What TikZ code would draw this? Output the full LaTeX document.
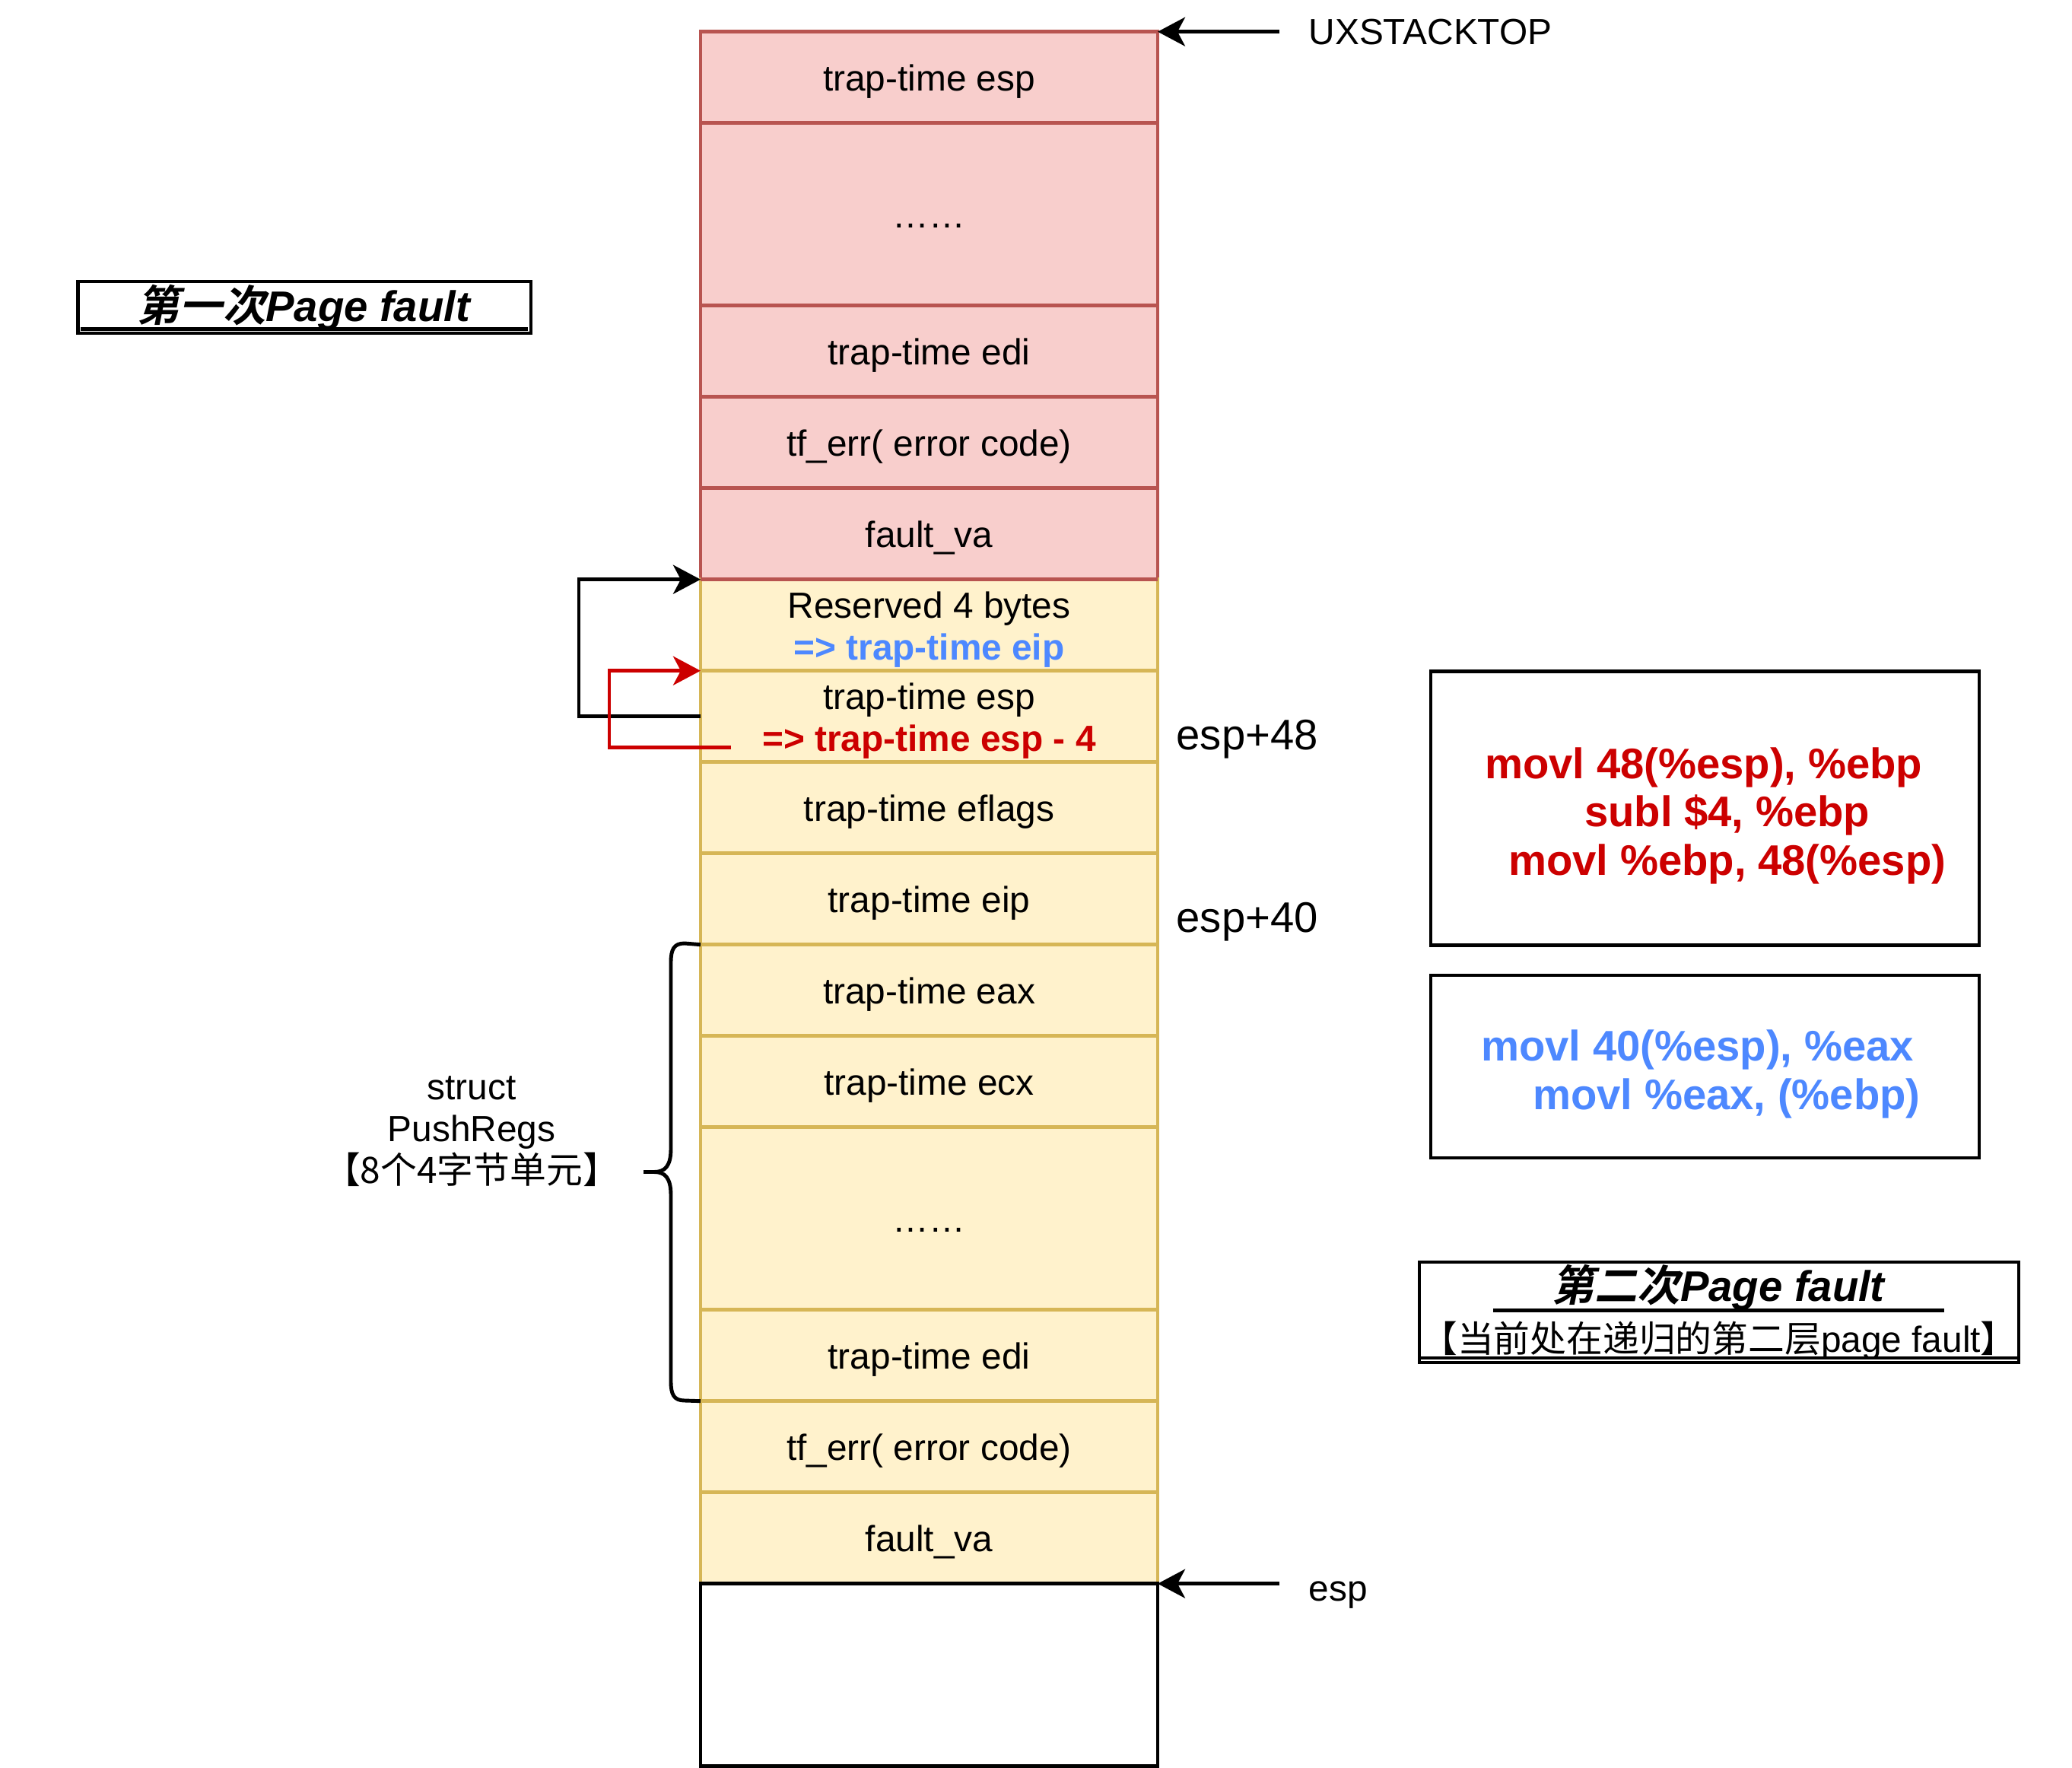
\documentclass[tikz,border=0pt]{standalone}
\usepackage{fontspec}
\setmainfont{Liberation Sans}
\newfontfamily\cjk{Noto Sans CJK SC}
\newfontfamily\cjkbi{Noto Sans CJK SC Bold}[FakeSlant=0.2]
\usepackage{xcolor}
\usepackage{tikz}
\usetikzlibrary{arrows.meta, positioning, calc}
\definecolor{ST_REDFILL}{HTML}{F8CECC}
\definecolor{ST_REDLINE}{HTML}{B85450}
\definecolor{ST_YELFILL}{HTML}{FFF2CC}
\definecolor{ST_YELLINE}{HTML}{D6B656}
\definecolor{ST_RED}{HTML}{CC0000}
\definecolor{ST_BLUE}{HTML}{4D88FF}
\tikzset{
  cell/.style={
    rectangle, minimum width=6.01cm, minimum height=1.2cm,
    inner sep=0pt, outer sep=0pt,
    text centered, align=center, line width=1.4pt,
    font=\fontsize{13.6}{15.7}\selectfont,
    execute at begin node={\rule{0pt}{0.48cm}},
    execute at end node={\rule[-0.13cm]{0pt}{0.13cm}}},
  redcell/.style={cell, draw=ST_REDLINE, fill=ST_REDFILL},
  yelcell/.style={cell, draw=ST_YELLINE, fill=ST_YELFILL},
  emptycell/.style={cell, draw=black, fill=white},
  dbl/.style={minimum height=2.4cm},
  lbl/.style={font=\fontsize{13.6}{16}\selectfont, inner sep=0pt},
  arr/.style={-{Stealth[length=3.6mm,width=3.8mm,inset=1mm]}, line width=1.4pt, color=black},
  redarr/.style={arr, color=ST_RED},
  codebox/.style={
    rectangle, draw=black, line width=1.4pt,
    minimum width=7.21cm, inner sep=0pt},
  codetxt/.style={font=\fontsize{16}{18}\selectfont\bfseries, align=left, inner sep=0pt},
  titlebox/.style={
    rectangle, draw=black, line width=1.4pt,
    inner sep=0pt, align=center},
  ulin/.style={line width=1.4pt},
  brc/.style={line width=1.4pt},
}
\begin{document}
\begin{tikzpicture}
  \useasboundingbox (0,0) rectangle (27.24,-23.24);

  % first frame
  \node[redcell, anchor=north] (c1) at (12.215,-0.417) {trap-time esp};
  \node[redcell, dbl, below=0pt of c1] (c2) {……};
  \node[redcell, below=0pt of c2] (c3) {trap-time edi};
  \node[redcell, below=0pt of c3] (c4) {tf\_err( error code)};
  \node[redcell, below=0pt of c4] (c5) {fault\_va};

  % second frame
  \node[yelcell, below=0pt of c5] (c6)
    {\rule{0pt}{0.49cm}Reserved 4 bytes\\{\color{ST_BLUE}\bfseries => trap-time eip}};
  \node[yelcell, below=0pt of c6] (c7)
    {\rule{0pt}{0.49cm}trap-time esp\\{\color{ST_RED}\bfseries => trap-time esp - 4}};
  \node[yelcell, below=0pt of c7] (c8) {trap-time eflags};
  \node[yelcell, below=0pt of c8] (c9) {trap-time eip};
  \node[yelcell, below=0pt of c9] (c10) {trap-time eax};
  \node[yelcell, below=0pt of c10] (c11) {trap-time ecx};
  \node[yelcell, dbl, below=0pt of c11] (c12) {……};
  \node[yelcell, below=0pt of c12] (c13) {trap-time edi};
  \node[yelcell, below=0pt of c13] (c14) {tf\_err( error code)};
  \node[yelcell, below=0pt of c14] (c15) {fault\_va};
  \node[emptycell, dbl, below=0pt of c15] (c16) {};
  \draw[ST_REDLINE, line width=1.4pt] (c5.south west) -- (c5.south east);

  % pointers on the right
  \node[lbl, anchor=west, inner xsep=3.8mm, xshift=1.6cm] (ux) at (c1.north east) {UXSTACKTOP};
  \draw[arr] (ux.west) -- (c1.north east);
  \node[lbl, anchor=west, inner xsep=3.8mm, xshift=1.6cm, yshift=-1.5mm] (esp) at (c15.south east) {esp};
  \draw[arr] (c15.south east -| esp.west) -- (c15.south east);
  \node[lbl, font=\fontsize{16}{18}\selectfont, anchor=west, xshift=2.4mm, yshift=-3mm] (off48) at (c7.east) {esp+48};
  \node[lbl, font=\fontsize{16}{18}\selectfont, anchor=west, xshift=2.4mm, yshift=-3mm] (off40) at (c9.east) {esp+40};

  % loops on the left
  \draw[arr] (c7.west) -- ++(-1.6,0) |- (c6.north west);
  \coordinate (rs) at ($(c7.west)+(0.4,-0.405)$);
  \draw[redarr] (rs) -- ++(-1.6,0) |- (c7.north west);

  % PushRegs brace
  \draw[brc] (c10.north west) -- (9.00,-12.40)
    .. controls (8.86,-12.40) and (8.82,-12.48) .. (8.82,-12.65) -- (8.82,-15.10)
    .. controls (8.82,-15.33) and (8.74,-15.405) .. (8.60,-15.405) -- (8.46,-15.405);
  \draw[brc] (8.60,-15.405)
    .. controls (8.74,-15.405) and (8.82,-15.48) .. (8.82,-15.71) -- (8.82,-18.16)
    .. controls (8.82,-18.33) and (8.86,-18.41) .. (9.00,-18.41) -- (c13.south west);
  \node[lbl, align=center, font=\fontsize{13.6}{15.7}\selectfont] (pregs) at (6.20,-14.87)
    {struct\\PushRegs\\{\cjk 【8个4字节单元】}};

  % code
  \node[codebox, minimum height=3.595cm] (box1) at (22.415,-10.623) {};
  \node[codetxt, text=ST_RED, anchor=west, xshift=7.3mm, yshift=-1mm] (movs1) at (box1.west)
    {movl 48(\%esp), \%ebp\\
     \hspace*{1.31cm}subl \$4, \%ebp\\
     \hspace*{0.31cm}movl \%ebp, 48(\%esp)};
  \node[codebox, minimum height=2.4cm] (box2) at (22.415,-14.02) {};
  \node[codetxt, text=ST_BLUE, anchor=west, xshift=6.8mm, yshift=-1mm] (movs2) at (box2.west)
    {movl 40(\%esp), \%eax\\
     \hspace*{0.68cm}movl \%eax, (\%ebp)};

  % titles
  \node[titlebox, minimum width=5.955cm, minimum height=0.68cm,
    font=\fontsize{16}{19}\selectfont] (fault1) at (4.0025,-4.04)
    {{\cjkbi 第一次}\textbf{\textit{Page fault}}};
  \draw[ulin] ([xshift=0.6mm, yshift=0.8mm]fault1.south west)
    -- ([xshift=-0.6mm, yshift=0.8mm]fault1.south east);
  \node[titlebox, minimum width=7.88cm, minimum height=1.32cm,
    font=\fontsize{13.6}{19}\selectfont] (fault2) at (22.60,-17.25)
    {{\fontsize{16}{19}\selectfont{\cjkbi 第二次}\textbf{\textit{Page fault}}}\\
     {\cjk 【当前处在递归的第二层}page fault{\cjk 】}};
  \draw[ulin] ([xshift=9.9mm, yshift=7.1mm]fault2.south west)
    -- ([xshift=-10mm, yshift=7.1mm]fault2.south east);
  \draw[ulin] ([xshift=0.3mm, yshift=0.85mm]fault2.south west)
    -- ([xshift=-0.3mm, yshift=0.85mm]fault2.south east);
\end{tikzpicture}
\end{document}
